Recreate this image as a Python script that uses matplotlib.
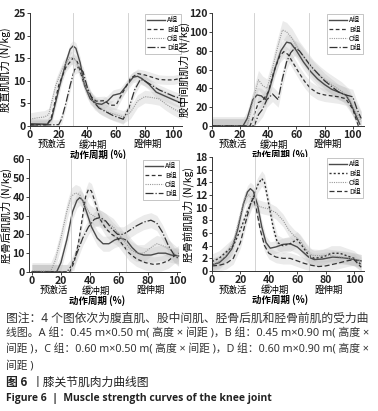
import matplotlib
matplotlib.use("Agg")
import matplotlib.pyplot as plt
import numpy as np

plt.rcParams['font.family'] = ['Noto Sans CJK SC', 'DejaVu Sans']

groups = ["A组", "B组", "C组", "D组"]

# 股直肌 (x %, N/kg)
rf_A = [(0, 0.5), (12, 0.4), (15, 1.5), (20, 8), (25, 14), (28, 17), (30, 17.7), (32, 17.2), (35, 14), (38, 9),
        (42, 6), (46, 5), (50, 4.8), (54, 5.5), (58, 6.8), (63, 7.2), (67, 8.8), (72, 10.8), (75, 11), (78, 10.5),
        (83, 9.2), (88, 7.5), (95, 6.5), (100, 5.8), (106, 5)]
rf_B = [(0, 0.3), (12, 0.3), (15, 2), (20, 9), (25, 13), (30, 15), (33, 14.2), (37, 10), (41, 7), (46, 5.5),
        (52, 5.6), (56, 4.6), (60, 4.6), (64, 7), (70, 10.5), (75, 11.6), (80, 11.3), (85, 10.8), (90, 10.3),
        (95, 10.2), (100, 10.2), (106, 10.6)]
rf_C = [(0, 1.5), (5, 1.8), (10, 2), (13, 2.5), (18, 9), (23, 13), (28, 15.2), (32, 14.5), (36, 11), (40, 7.5),
        (45, 5), (50, 3.8), (55, 3), (60, 2.5), (65, 2), (70, 3), (75, 5.5), (80, 6.5), (85, 6.3), (90, 6),
        (95, 4.8), (100, 3.8), (106, 2.8)]
rf_D = [(0, 0.2), (20, 0.3), (22, 1.5), (25, 5), (28, 9), (31, 12.5), (34, 13), (37, 12), (40, 8.5), (44, 5.5),
        (48, 4), (52, 3.3), (58, 2.3), (65, 1.5), (69, 4), (73, 8), (77, 10.3), (80, 10), (85, 9), (90, 8),
        (95, 7.3), (100, 6.6), (106, 6)]
rf_sd = [1.2, 1.0, 1.4, 1.1]

# 股中间肌
vi_A = [(0, 0), (22, 0), (25, 8), (29, 28), (32, 33), (35, 32), (38, 28), (41, 40), (45, 62), (49, 80), (53, 89),
        (56, 88), (60, 80), (65, 68), (70, 58), (75, 50), (80, 44), (85, 39), (90, 36), (95, 33), (98, 26),
        (102, 12), (105, 2)]
vi_B = [(0, 0), (27, 0), (30, 12), (33, 25), (36, 27), (40, 36), (44, 58), (48, 74), (51, 79), (54, 76), (58, 66),
        (62, 56), (66, 47), (70, 40), (75, 35), (80, 33), (85, 32), (90, 31), (95, 29), (100, 18), (104, 0)]
vi_C = [(0, 0), (25, 0), (28, 20), (31, 38), (33, 49), (36, 43), (39, 40), (42, 55), (46, 80), (50, 102),
        (53, 100), (57, 93), (62, 80), (67, 70), (72, 60), (77, 53), (82, 47), (87, 42), (92, 37), (97, 30),
        (101, 18), (106, 5)]
vi_D = [(0, 0), (30, 0), (33, 12), (36, 18), (39, 28), (43, 34), (47, 28), (50, 50), (53, 68), (56, 78), (59, 83),
        (62, 80), (66, 72), (70, 64), (75, 56), (80, 48), (85, 42), (90, 36), (95, 33), (100, 31), (103, 18),
        (106, 8)]
vi_sd = [8, 7, 10, 8]

# 胫骨后肌
tp_A = [(0, 0), (17, 0), (20, 5), (24, 17), (28, 32), (31, 38), (33, 39.5), (35, 38), (38, 31), (41, 24), (45, 18),
        (49, 15), (53, 15), (57, 17), (61, 18), (65, 17), (69, 13), (73, 10), (77, 9), (82, 9), (87, 10), (92, 10),
        (96, 9), (101, 8.5)]
tp_B = [(0, 0), (26, 0), (29, 5), (32, 15), (35, 30), (37, 40), (39, 44), (41, 43), (44, 36), (47, 28), (51, 23),
        (55, 20), (59, 18), (63, 14), (67, 10), (72, 7), (78, 5), (84, 4), (89, 4.5), (94, 6), (98, 8.5), (101, 10)]
tp_C = [(0, 0.5), (13, 0.5), (16, 6), (20, 18), (24, 32), (27, 40), (30, 42), (33, 41), (36, 36), (40, 31),
        (44, 29), (48, 28), (52, 26), (56, 24), (60, 20), (64, 16), (68, 12), (72, 10), (77, 10), (82, 13),
        (86, 15), (90, 14), (95, 12), (101, 8)]
tp_D = [(0, 0), (24, 0), (27, 3), (31, 10), (35, 18), (39, 24), (43, 28), (47, 29), (51, 27), (55, 23), (59, 20),
        (63, 20), (67, 22), (72, 24.5), (77, 26.5), (82, 27.5), (86, 26), (90, 21), (94, 14), (98, 9), (101, 7)]
tp_sd = [4, 4, 4.5, 4]

# 胫骨前肌
ta_A = [(0, 1), (5, 1.3), (10, 2.3), (14, 3.5), (18, 6.5), (22, 10.5), (25, 12.5), (27, 13), (29, 12.6),
        (32, 10.5), (35, 7), (38, 4.5), (41, 3.6), (45, 3.8), (50, 4.2), (55, 4.3), (60, 3.8), (64, 3), (68, 2.2),
        (72, 1.8), (78, 1.9), (85, 2.2), (92, 2.1), (98, 1.9), (105, 1.6)]
ta_B = [(0, 1.5), (5, 2), (10, 3), (15, 4), (20, 6.5), (25, 9.5), (29, 11.5), (32, 13.5), (35, 14.6), (37, 14),
        (40, 10.5), (43, 7), (46, 4.5), (50, 4), (55, 4.3), (60, 5), (64, 3.8), (68, 2.5), (72, 2), (78, 2.2),
        (84, 2.8), (90, 2.8), (95, 2.4), (100, 2), (105, 1)]
ta_C = [(0, 1), (5, 1.5), (10, 2.5), (15, 4.5), (19, 8), (23, 11.5), (26, 12), (29, 11), (32, 10.3), (36, 10),
        (40, 9.8), (45, 9.2), (50, 8), (54, 6.5), (58, 5.5), (62, 4.8), (66, 3.5), (70, 2.5), (75, 2.4), (80, 2.5),
        (88, 2.3), (95, 2.1), (100, 1.9), (105, 1.6)]
ta_D = [(0, 0.8), (5, 0.9), (10, 1.2), (15, 2), (20, 4.5), (24, 8), (27, 10.5), (29, 11.5), (31, 10), (34, 6.5),
        (37, 4), (40, 2.8), (45, 2.2), (50, 2), (55, 2), (60, 1.6), (65, 1.2), (70, 0.9), (75, 0.7), (80, 0.8),
        (88, 1.2), (95, 1.6), (100, 1.8), (105, 0.6)]
ta_sd = [1.0, 1.2, 1.0, 0.9]

phase_names = ["预激活", "缓冲期", "蹬伸期"]
phase_pos = [15, 44, 82]

panels = [
    dict(series=[rf_A, rf_B, rf_C, rf_D], sd=rf_sd, ylabel="股直肌肌力 (N/kg)", ylim=(0, 25), yticks=np.arange(0, 26, 5),
         xlim=(0, 106), vlines=(30, 68), rect=(30, 13, 182, 126), ylx=-0.125),
    dict(series=[vi_A, vi_B, vi_C, vi_D], sd=vi_sd, ylabel="股中间肌肌力 (N/kg)", ylim=(0, 120), yticks=np.arange(0, 121, 20),
         xlim=(0, 108), vlines=(30, 69), rect=(212, 13, 364, 126), ylx=-0.145),
    dict(series=[tp_A, tp_B, tp_C, tp_D], sd=tp_sd, ylabel="胫骨后肌肌力 (N/kg)", ylim=(0, 60), yticks=np.arange(0, 61, 10),
         xlim=(-2, 102), vlines=(27, 65), rect=(29, 159, 180, 272), ylx=-0.115),
    dict(series=[ta_A, ta_B, ta_C, ta_D], sd=ta_sd, ylabel="胫骨前肌肌力 (N/kg)", ylim=(0, 18), yticks=np.arange(0, 19, 2),
         xlim=(0, 107), vlines=(30, 68), rect=(212, 157, 364, 271), ylx=-0.12),
]

styles = [
    dict(color="#4a4a4a", ls="-", lw=1.0),
    dict(color="#333333", ls=(0, (3, 2)), lw=0.9),
    dict(color="#9a9a9a", ls=(0, (1, 1)), lw=0.8),
    dict(color="#333333", ls="-.", lw=0.9),
]
styles_ta = [
    dict(color="#4a4a4a", ls="-", lw=1.0),
    dict(color="#333333", ls=(0, (1.5, 1.5)), lw=1.0),
    dict(color="#9a9a9a", ls=(0, (1, 1)), lw=0.8),
    dict(color="#333333", ls=(0, (4, 2)), lw=0.9),
]

W, H = 378, 411
fig = plt.figure(figsize=(W / 100, H / 100), dpi=100)

for i, p in enumerate(panels):
    x0, y0, x1, y1 = p["rect"]
    ax = fig.add_axes([x0 / W, 1 - y1 / H, (x1 - x0) / W, (y1 - y0) / H])
    st = styles_ta if i == 3 else styles
    for s, sd, g, sty in zip(p["series"], p["sd"], groups, st):
        xs = np.array([a for a, b in s])
        ys = np.array([b for a, b in s])
        ax.fill_between(xs, np.clip(ys - sd, 0, None), ys + sd, color="#bdbdbd", alpha=0.3, lw=0)
        ax.plot(xs, ys, label=g, **sty)
    for v in p["vlines"]:
        ax.axvline(v, color="#cccccc", lw=0.6)
    ax.set_xlim(*p["xlim"])
    ax.set_ylim(*p["ylim"])
    ax.set_yticks(p["yticks"])
    ax.set_xticks(np.arange(0, 101, 20))
    for sp in ["top", "right"]:
        ax.spines[sp].set_visible(False)
    for sp in ["left", "bottom"]:
        ax.spines[sp].set_linewidth(0.7)
        ax.spines[sp].set_color("#333333")
    ax.tick_params(labelsize=7.5, length=2, width=0.6, pad=1, colors="#222222")
    for lab in ax.get_xticklabels() + ax.get_yticklabels():
        lab.set_fontweight("bold")
    ax.set_ylabel(p["ylabel"], fontsize=7.5)
    ax.yaxis.set_label_coords(p["ylx"], 0.5)
    leg = ax.legend(loc="upper right", fontsize=5, handlelength=2.6, frameon=True, fancybox=False,
                    borderpad=0.3, labelspacing=0.15, handletextpad=0.3, borderaxespad=0.2)
    leg.get_frame().set_edgecolor("#999999")
    leg.get_frame().set_linewidth(0.5)
    # phase labels under the axis
    for xt, t in zip(phase_pos, phase_names):
        ax.text(xt, -0.165, t, transform=ax.get_xaxis_transform(), ha="center", va="center", fontsize=6.8)
    ax.text(0.45, -0.25, "动作周期 (%)", transform=ax.transAxes, ha="center", va="center", fontsize=6.8,
            fontweight="bold")

cap_font = ["Noto Sans", "Noto Sans CJK SC"]
cap = ["图注：4 个图依次为腹直肌、股中间肌、胫骨后肌和胫骨前肌的受力曲",
       "线图。A 组：0.45 m×0.50 m( 高度 × 间距 )，B 组：0.45 m×0.90 m( 高度 ×",
       "间距 )，C 组：0.60 m×0.50 m( 高度 × 间距 )，D 组：0.60 m×0.90 m( 高度 ×",
       "间距 )"]
renderer = fig.canvas.get_renderer()
size = 8.2
for k, line in enumerate(cap):
    t = fig.text(6 / W, 1 - (318 + 16 * k) / H, line, fontsize=8.2, color="#333333", va="center", ha="left",
                 family=cap_font)
    if k < 3:
        # stretch/shrink the line to the justified width of the caption block
        wpx = t.get_window_extent(renderer).width
        size = 8.2 * 364 / wpx
    t.set_fontsize(min(size, 8.6))
fig.text(6 / W, 1 - 382 / H, "图 6", fontsize=8.5, fontweight="bold", color="#222222", va="center")
fig.text(32 / W, 1 - 382 / H, "丨膝关节肌肉力曲线图", fontsize=8.5, color="#222222", va="center")
fig.text(6 / W, 1 - 398 / H, "Figure 6  |  Muscle strength curves of the knee joint", fontsize=7.5,
         fontweight="bold", color="#222222", va="center", family=["Open Sans", "DejaVu Sans"])

fig.savefig("out.png", dpi=100)
